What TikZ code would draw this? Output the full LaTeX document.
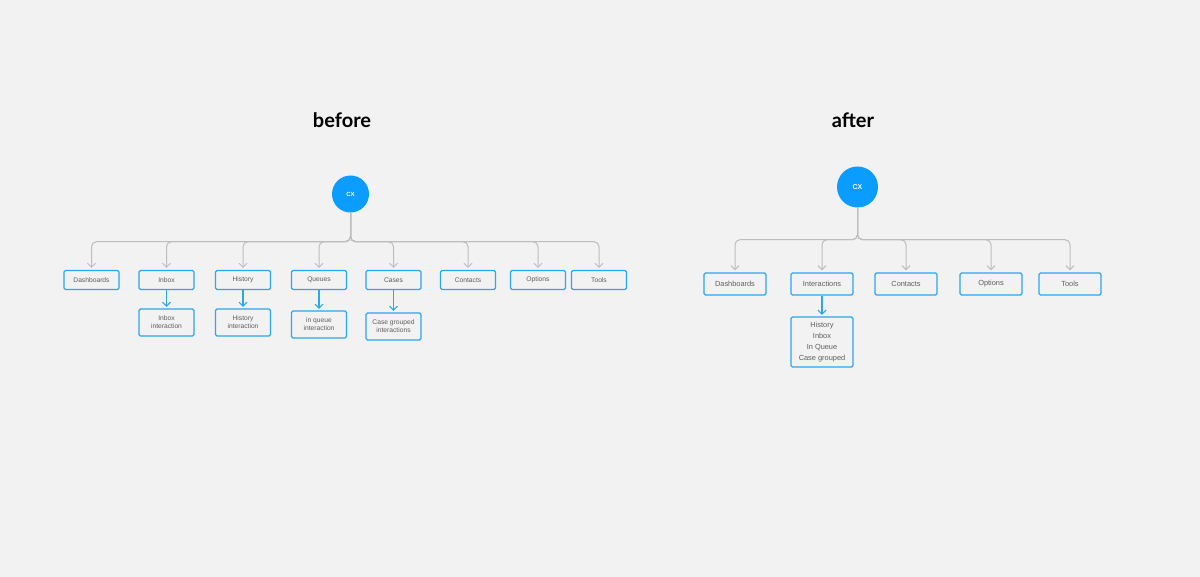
\documentclass[tikz,border=0pt]{standalone}
\usepackage{fontspec}
\setmainfont{Liberation Sans}
\newfontfamily\titlefont{Lato}
\usetikzlibrary{arrows.meta}
\definecolor{bg}{HTML}{F2F2F2}
\definecolor{boxblue}{HTML}{2AA6F2}
\definecolor{cxblue}{HTML}{0A9CFF}
\definecolor{txtgray}{HTML}{5E5E5E}
\definecolor{linegray}{HTML}{BDBDBD}
\tikzset{
  boxA/.style={draw=boxblue, line width=1.1pt, rounded corners=1.5pt, fill=bg,
    minimum width=55pt, minimum height=19pt, inner sep=0pt, text=txtgray,
    font=\fontsize{6.7}{8.2}\selectfont, align=center},
  boxA2/.style={boxA, minimum height=27pt},
  boxB/.style={draw=boxblue, line width=1.2pt, rounded corners=1.5pt, fill=bg,
    minimum width=62pt, minimum height=22pt, inner sep=0pt, text=txtgray,
    font=\fontsize{7.4}{10.8}\selectfont, align=center},
  cxnode/.style={circle, fill=cxblue, inner sep=0pt, text=white,
    font=\bfseries\fontsize{6}{7}\selectfont},
  tree/.style={draw=linegray, line width=1pt, rounded corners=5pt,
    -{Straight Barb[length=4pt,width=8pt]}, shorten >=2pt},
  sub/.style={draw=boxblue, line width=1.1pt,
    -{Straight Barb[length=4pt,width=8pt]}, shorten >=1.5pt},
  title/.style={font=\titlefont\bfseries\fontsize{20}{24}\selectfont, text=black}
}
\begin{document}
\begin{tikzpicture}[x=1pt,y=-1pt]
\fill[bg] (0,0) rectangle (1200,577);
\useasboundingbox (0,0) rectangle (1200,577);

% ---------- before ----------
\node[title] (tb) at (342,120) {before};
\node[cxnode, minimum size=37pt] (cxa) at (350.5,194) {CX};

\node[boxA] (a1) at (91.5,280) {Dashboards};
\node[boxA] (a2) at (166.5,280) {Inbox};
\node[boxA] (a3) at (243,280) {History};
\node[boxA] (a4) at (319,280) {Queues};
\node[boxA] (a5) at (393.5,280) {Cases};
\node[boxA] (a6) at (468,280) {Contacts};
\node[boxA] (a7) at (538,280) {Options};
\node[boxA] (a8) at (599,280) {Tools};

\node[boxA2] (b2) at (166.5,322.5) {Inbox\\interaction};
\node[boxA2] (b3) at (243,322.5) {History\\interaction};
\node[boxA2] (b4) at (319,324.5) {in queue\\interaction};
\node[boxA2] (b5) at (393.5,326.5) {Case grouped\\interactions};

\foreach \n in {a1,a2,a3,a4,a5,a6,a7,a8}
  \draw[tree] (cxa.south) |- ([yshift=-29pt]\n.north |- cxa.south) -- (\n.north);

\foreach \n/\m in {a2/b2,a3/b3,a4/b4,a5/b5}
  \draw[sub] (\n.south) -- (\m.north);

% ---------- after ----------
\node[title] (ta) at (853,120) {after};
\node[cxnode, minimum size=41pt, font=\bfseries\fontsize{7}{8}\selectfont] (cxb) at (857.5,187) {CX};

\node[boxB] (c1) at (735,284) {Dashboards};
\node[boxB] (c2) at (822,284) {Interactions};
\node[boxB] (c3) at (906,284) {Contacts};
\node[boxB] (c4) at (991,284) {Options};
\node[boxB] (c5) at (1070,284) {Tools};

\node[boxB, minimum height=50pt] (d2) at (822,342) {History\\Inbox\\In Queue\\Case grouped};

\foreach \n in {c1,c2,c3,c4,c5}
  \draw[tree] (cxb.south) |- ([yshift=-32pt]\n.north |- cxb.south) -- (\n.north);

\draw[sub] (c2.south) -- (d2.north);
\end{tikzpicture}
\end{document}
